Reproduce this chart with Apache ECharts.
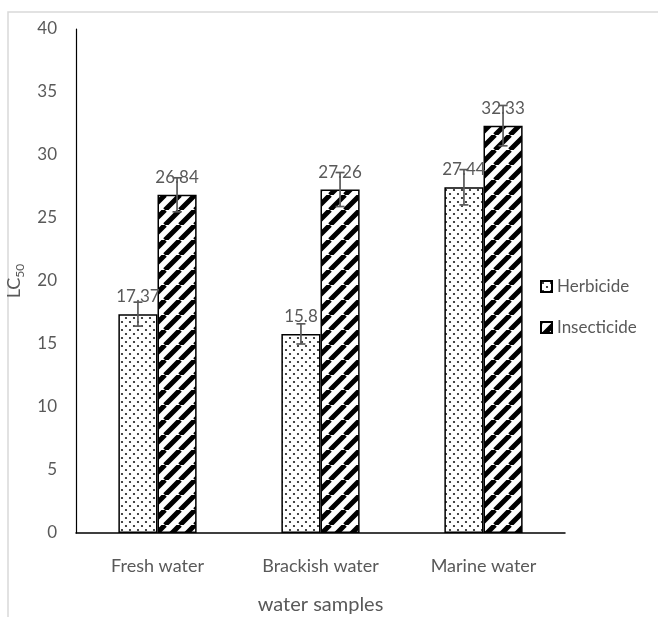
<!DOCTYPE html>
<html>
<head>
<meta charset="utf-8">
<script src="https://cdn.jsdelivr.net/npm/echarts@6/dist/echarts.min.js"></script>
<style>html,body{margin:0;padding:0;background:#fff}#c{width:658px;height:617px}</style>
</head>
<body>
<div id="c"></div>
<script>
const categories = ['Fresh water', 'Brackish water', 'Marine water'];
const herbicide = [17.37, 15.8, 27.44];
const insecticide = [26.84, 27.26, 32.33];
const herbicideErr = [0.95, 0.8, 1.4];
const insecticideErr = [1.35, 1.35, 1.6];
const yTicks = [0, 5, 10, 15, 20, 25, 30, 35, 40];

function dotPattern() {
  const c = document.createElement('canvas');
  c.width = 8; c.height = 8;
  const g = c.getContext('2d');
  g.fillStyle = '#fff'; g.fillRect(0, 0, 8, 8);
  g.fillStyle = '#1a1a1a';
  [[2, 2], [6, 6]].forEach(p => { g.beginPath(); g.arc(p[0], p[1], 1.1, 0, Math.PI * 2); g.fill(); });
  return c;
}
function stripePattern() {
  const s = 15;
  const c = document.createElement('canvas');
  c.width = s; c.height = s;
  const g = c.getContext('2d');
  g.fillStyle = '#fff'; g.fillRect(0, 0, s, s);
  g.strokeStyle = '#000'; g.lineWidth = 5;
  g.beginPath();
  [-s, 0, s].forEach(k => { g.moveTo(k, s); g.lineTo(k + s, 0); });
  g.stroke();
  return c;
}
const font = 'Lato';
const grey = '#595959';

function errSeries(vals, errs, side) {
  return {
    type: 'custom',
    z: 10,
    silent: true,
    data: vals.map((v, i) => [i, v, errs[i]]),
    encode: { x: 0, y: 1 },
    renderItem: function (params, api) {
      const band = api.size([1, 0])[0];
      const off = side * band * 0.12;
      const top = api.coord([api.value(0), api.value(1) + api.value(2)]);
      const bot = api.coord([api.value(0), api.value(1) - api.value(2)]);
      const x = top[0] + off;
      const cw = 4.5;
      const st = { stroke: grey, lineWidth: 1.7 };
      return {
        type: 'group',
        children: [
          { type: 'line', shape: { x1: x, y1: top[1], x2: x, y2: bot[1] }, style: st },
          { type: 'line', shape: { x1: x - cw, y1: top[1], x2: x + cw, y2: top[1] }, style: st },
          { type: 'line', shape: { x1: x - cw, y1: bot[1], x2: x + cw, y2: bot[1] }, style: st }
        ]
      };
    }
  };
}

const chart = echarts.init(document.getElementById('c'));
const labelCfg = { show: true, position: 'top', distance: 9, color: grey, fontSize: 17, fontFamily: font };
chart.setOption({
  animation: false,
  textStyle: { fontFamily: font },
  graphic: [
    { type: 'polyline', shape: { points: [[8, 700], [8, 12], [700, 12]] }, style: { stroke: '#d9d9d9', lineWidth: 1.5, fill: null } }
  ],
  grid: { left: 76, right: 93, top: 29, bottom: 84, containLabel: false, outerBoundsMode: 'none' },
  legend: {
    orient: 'vertical',
    left: 535, top: 273,
    itemWidth: 11, itemHeight: 11, itemGap: 24,
    icon: 'rect',
    textStyle: { color: grey, fontSize: 17, fontFamily: font },
    data: ['Herbicide', 'Insecticide']
  },
  xAxis: {
    type: 'category',
    data: categories,
    axisLine: { lineStyle: { color: '#000', width: 1.5 } },
    axisTick: { show: false },
    axisLabel: { color: grey, fontSize: 18, fontFamily: font, margin: 24 },
    name: 'water samples',
    nameLocation: 'middle',
    nameGap: 62,
    nameTextStyle: { color: grey, fontSize: 20, fontFamily: font }
  },
  yAxis: {
    type: 'value',
    min: yTicks[0], max: yTicks[yTicks.length - 1], interval: 5,
    axisLine: { show: true, lineStyle: { color: '#000', width: 1.2 } },
    axisTick: { show: false },
    splitLine: { show: false },
    axisLabel: { color: grey, fontSize: 17, fontFamily: font, margin: 19 },
    name: 'LC{sub|50}',
    nameLocation: 'middle',
    nameGap: 36,
    nameTextStyle: {
      color: grey, fontSize: 18, fontFamily: font,
      rich: { sub: { fontSize: 12, color: grey, fontFamily: font, verticalAlign: 'bottom', padding: [12, 0, 0, 0] } }
    }
  },
  series: [
    {
      name: 'Herbicide', type: 'bar', data: herbicide,
      barWidth: '24%', barGap: '0%',
      itemStyle: { color: { image: dotPattern(), repeat: 'repeat' }, borderColor: '#000', borderWidth: 1.5 },
      label: labelCfg
    },
    {
      name: 'Insecticide', type: 'bar', data: insecticide,
      barWidth: '24%', barGap: '0%',
      itemStyle: { color: { image: stripePattern(), repeat: 'repeat' }, borderColor: '#000', borderWidth: 1.5 },
      label: labelCfg
    },
    errSeries(herbicide, herbicideErr, -1),
    errSeries(insecticide, insecticideErr, 1)
  ]
});
</script>
</body>
</html>
